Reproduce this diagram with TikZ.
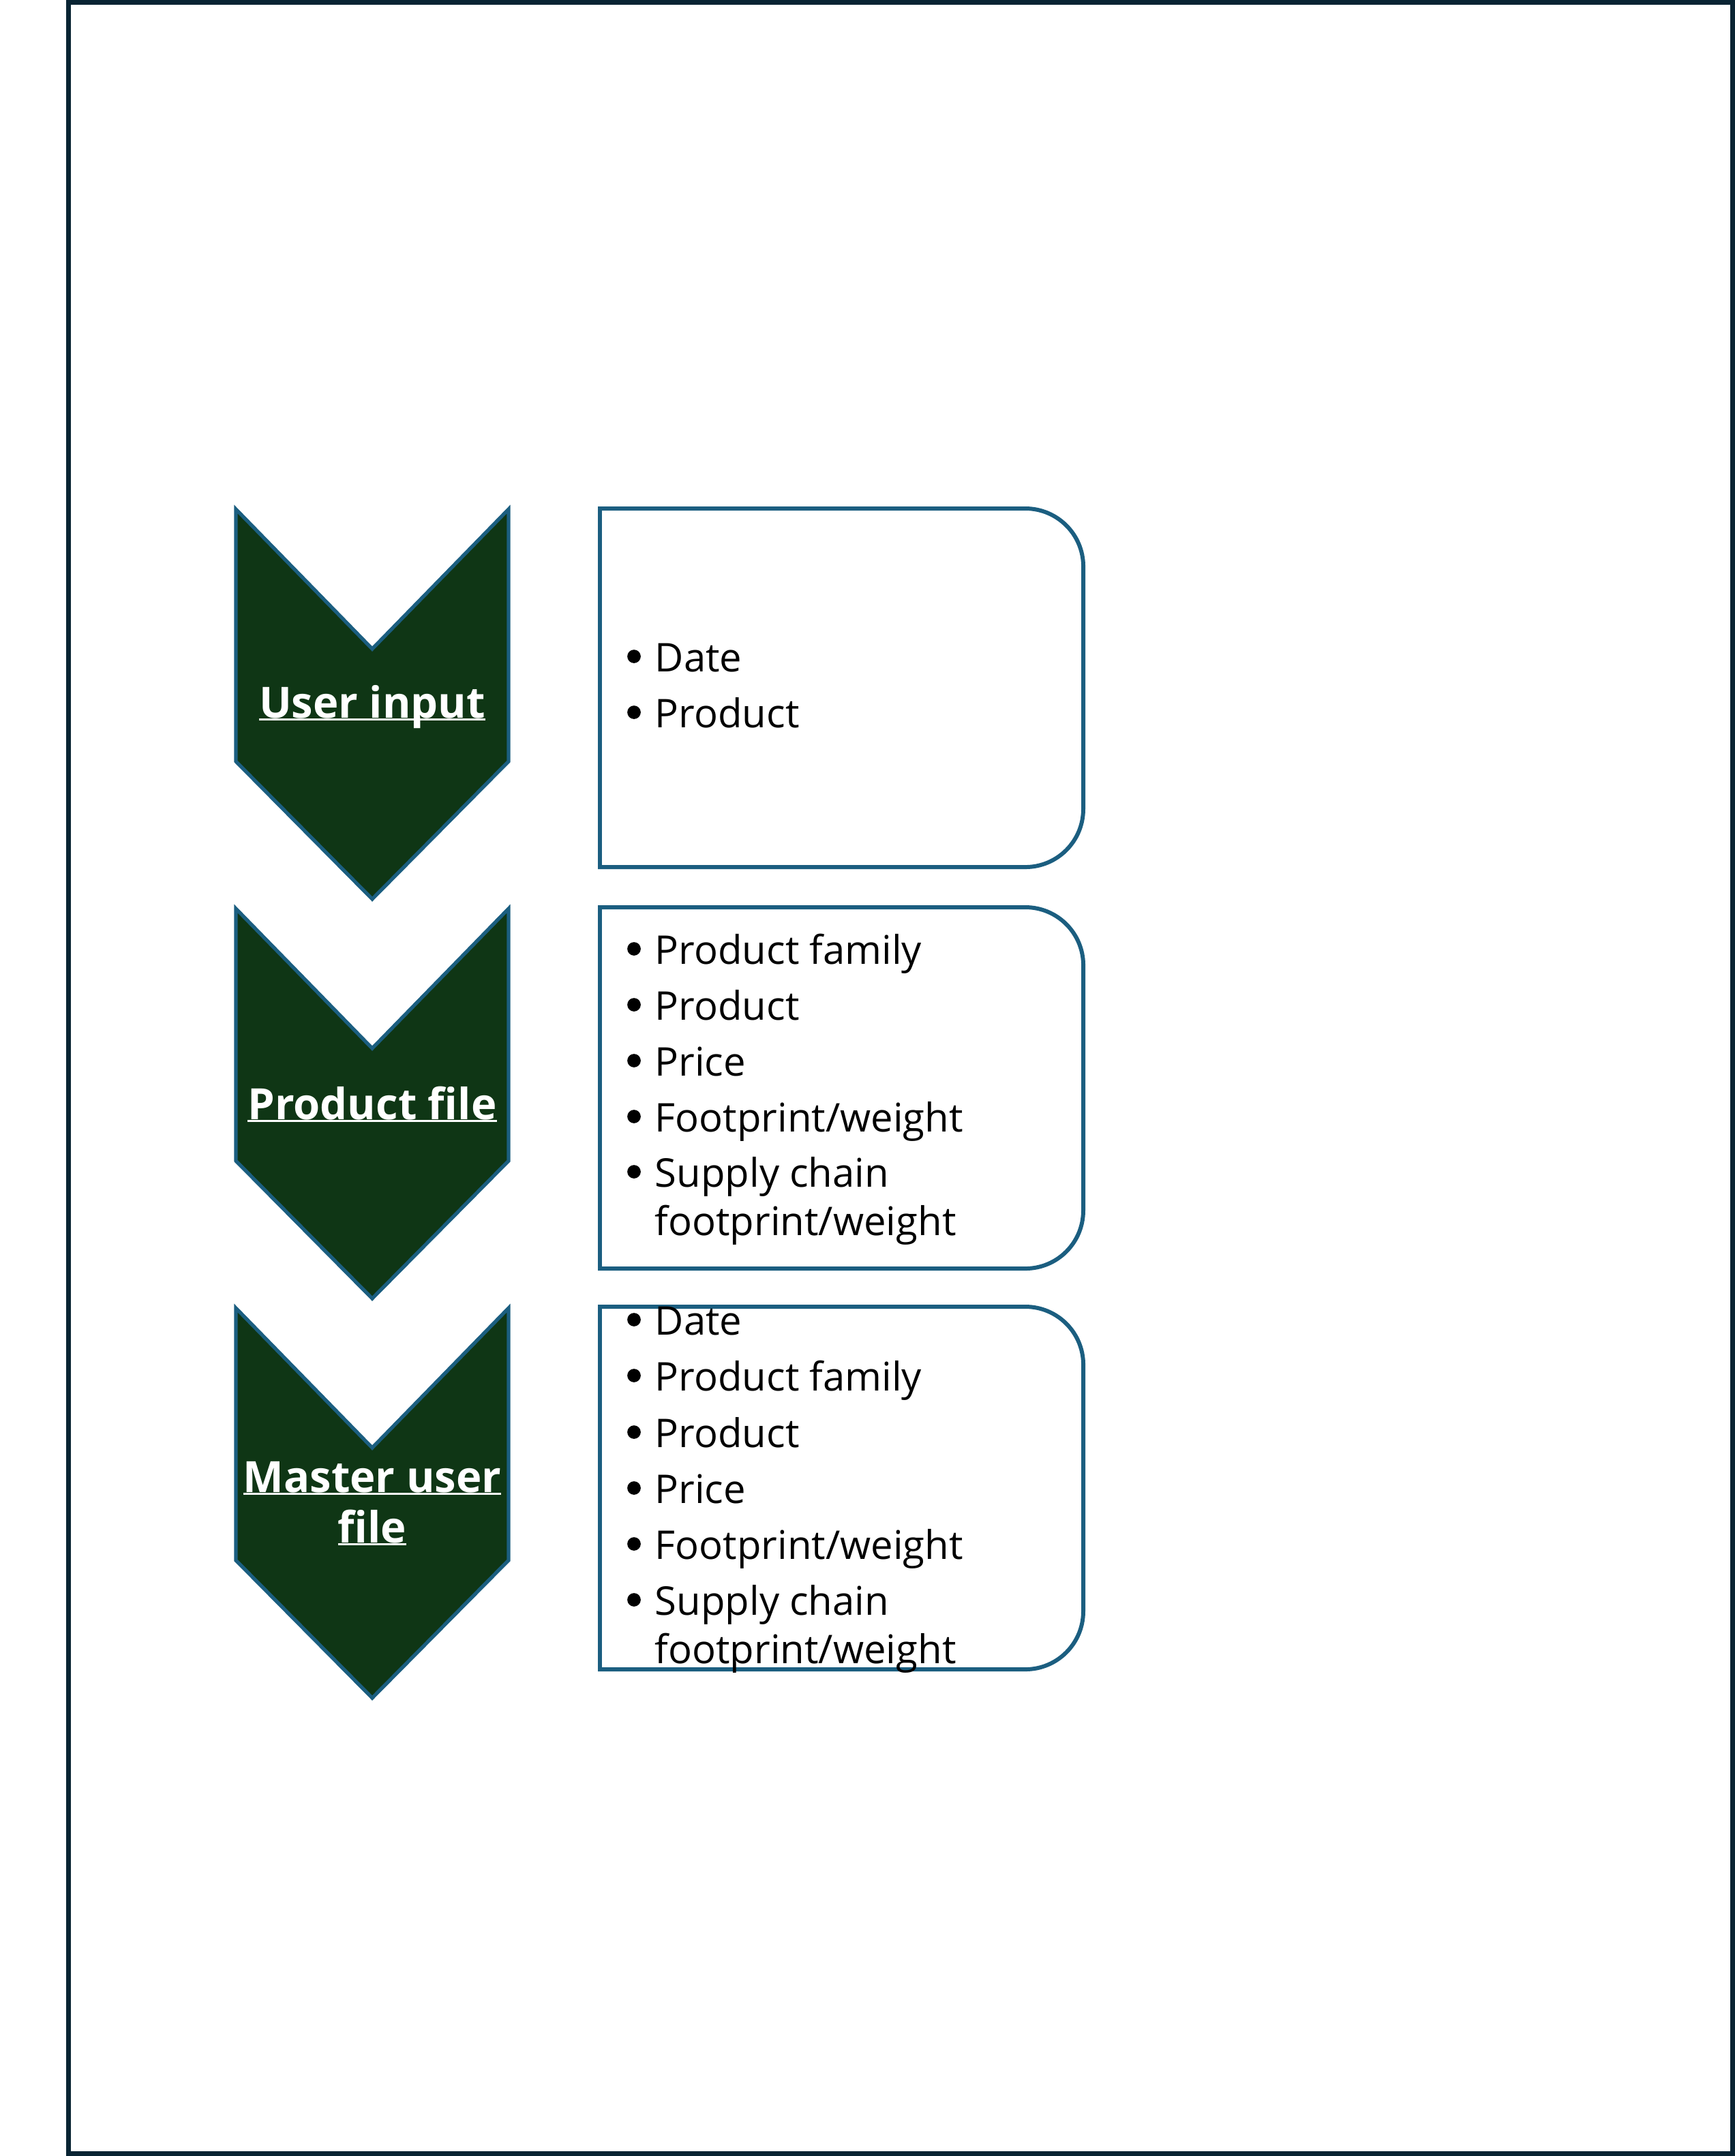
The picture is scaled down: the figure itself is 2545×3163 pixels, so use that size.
\documentclass[tikz,border=0pt]{standalone}
\usepackage{fontspec}
\setmainfont{Open Sans}
\definecolor{chevron-green}{RGB}{15,54,21}
\definecolor{edge-blue}{RGB}{27,94,128}
\definecolor{frame-navy}{RGB}{9,36,51}
\newsavebox{\ulbox}
\newcommand{\labelul}[1]{\sbox{\ulbox}{#1}\rlap{\rule[-1.2pt]{\wd\ulbox}{0.9pt}}\usebox{\ulbox}}

\begin{document}
\begin{tikzpicture}[x=0.01cm,y=-0.01cm,
	chevron/.style={fill=chevron-green,draw=edge-blue,line width=1.5pt},
	listbox/.style={draw=edge-blue,line width=1.7pt},
	steplabel/.style={anchor=base,inner sep=0pt,text=white,font=\fontsize{18}{21}\selectfont\bfseries},
	item/.style={anchor=base west,inner sep=0pt,font=\fontsize{16.5}{23}\selectfont},
	dot/.style={circle,fill=black,inner sep=0pt,minimum size=5.6pt}]
	\useasboundingbox (0,0) rectangle (2545,3163);
	
	% page frame
	\draw[frame-navy,line width=2pt] (100.5,3.5) rectangle (2541.5,3159.5);
	
	% chevrons
	\foreach \t in {747,1333,1919} {
		\draw[chevron] (346,\t) -- (546,\t+205) -- (746,\t) -- (746,\t+370) -- (546,\t+572) -- (346,\t+370) -- cycle;
	}
	\node[steplabel] (ui) at (546,1053) {\labelul{User input}};
	\node[steplabel] (pf) at (546,1642) {\labelul{Product file}};
	\node[steplabel] (mu) at (546,2189) {\labelul{Master user}};
	\node[steplabel] (mufile) at (546,2263) {\labelul{file}};
	
	% list boxes
	\foreach \t/\b in {746/1272,1331/1861,1917/2449} {
		\draw[listbox] (880,\b) -- (880,\t) -- (1504,\t) arc[start angle=90,end angle=0,radius=0.85cm]
			-- (1589,\b-85) arc[start angle=0,end angle=-90,radius=0.85cm] -- cycle;
	}
	
	% user input items
	\foreach \y/\txt [count=\i] in {985/Date,1067/Product} {
		\node[dot] (uidot\i) at (930,\y-22) {};
		\node[item] (uiitem\i) at (960,\y) {\txt};
	}
	
	% product file items
	\foreach \y/\txt [count=\i] in {1414/Product family,1496/Product,1578/Price,1660/{Footprint/weight},1741/Supply chain} {
		\node[dot] (pfdot\i) at (930,\y-22) {};
		\node[item] (pfitem\i) at (960,\y) {\txt};
	}
	\node[item] (pfitem5b) at (960,1812) {footprint/weight};
	
	% master user file items
	\foreach \y/\txt [count=\i] in {1958/Date,2040/Product family,2123/Product,2205/Price,2287/{Footprint/weight},2369/Supply chain} {
		\node[dot] (mudot\i) at (930,\y-22) {};
		\node[item] (muitem\i) at (960,\y) {\txt};
	}
	\node[item] (muitem6b) at (960,2440) {footprint/weight};
\end{tikzpicture}
\end{document}
